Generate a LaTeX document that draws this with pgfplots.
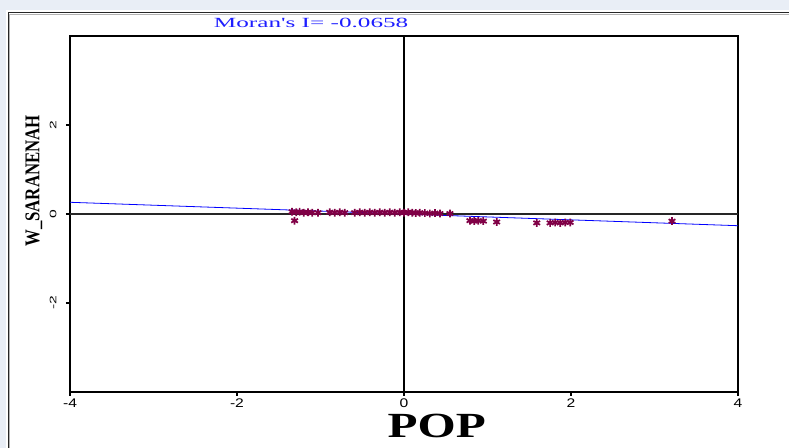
\documentclass[border=0pt]{standalone}
\usepackage{pgfplots}
\pgfplotsset{compat=1.18}
\usepackage{fontspec}
\usepackage{graphicx}
\setmainfont{Liberation Sans}
\newfontfamily\tickfont{Liberation Sans}[FakeStretch=1.25]
\newfontfamily\titlefont{Liberation Serif}[FakeStretch=1.8]
\newfontfamily\labfont{Liberation Serif}
\newfontfamily\popfont{Liberation Serif}[FakeStretch=1.39]
\definecolor{ptcol}{RGB}{128,0,70}
\definecolor{regblue}{RGB}{0,0,255}
\definecolor{titleblue}{RGB}{30,30,255}
\definecolor{winbg}{RGB}{233,238,246}

\begin{document}
\begin{tikzpicture}
% picture is 789x448 px, 1px = 0.75pt, axis box at px (70..738, 36..392)
\path[use as bounding box] (-52.5pt,-42pt) rectangle (539.25pt,294pt);
\fill[winbg] (-52.5pt,-42pt) rectangle (-48pt,294pt);
\fill[winbg] (-52.5pt,286.5pt) rectangle (539.25pt,294pt);
\draw[black!85, line width=1.1pt] (-46.3pt,-42pt) -- (-46.3pt,284.6pt) -- (539.25pt,284.6pt);
\draw[gray!60, line width=0.6pt] (-45.2pt,-42pt) -- (-45.2pt,283.5pt) -- (539.25pt,283.5pt);

\begin{axis}[
    scale only axis,
    width=501pt, height=267pt,
    xmin=-4, xmax=4, ymin=-4, ymax=4,
    axis line style={line width=1.1pt},
    clip=false,
    xtick={-4,-2,0,2,4},
    xticklabels={-4,-2,0,2,4},
    ytick={-2,0,2},
    yticklabels={\scalebox{1}[0.75]{-2},\scalebox{1}[0.75]{0},\scalebox{1}[0.75]{2}},
    tick align=outside,
    major tick length=3pt,
    tick style={black, line width=0.8pt},
    xtick pos=bottom, ytick pos=left,
    xticklabel style={font=\tickfont\fontsize{9.4}{10}\selectfont, inner sep=2pt},
    yticklabel style={font=\tickfont\fontsize{9.4}{10}\selectfont, rotate=90, anchor=south, inner sep=7pt},
]
% zero lines
\addplot[black!85, line width=0.8pt, forget plot] coordinates {(-4,0) (4,0)};
\addplot[black, line width=1.3pt, forget plot] coordinates {(0,-4) (0,4)};
% regression line, slope = Moran's I
\addplot[regblue, line width=0.6pt] coordinates {(-4,0.2632) (4,-0.2632)};
% observations
\addplot[only marks, mark=asterisk, mark size=2.9pt, ptcol, line width=1.3pt] coordinates {
(-1.34,0.05) (-1.31,-0.15) (-1.29,0.04) (-1.25,0.05) (-1.20,0.03) (-1.15,0.04)
(-1.10,0.03) (-1.03,0.03) (-0.89,0.04) (-0.83,0.03) (-0.77,0.04) (-0.71,0.03)
(-0.59,0.03) (-0.53,0.04) (-0.47,0.03) (-0.41,0.04) (-0.35,0.03) (-0.29,0.04)
(-0.23,0.03) (-0.17,0.04) (-0.11,0.03) (-0.05,0.04) (0.00,0.03) (0.05,0.04)
(0.10,0.03) (0.14,0.02) (0.19,0.03) (0.25,0.02) (0.31,0.01) (0.37,0.02)
(0.43,0.01) (0.55,0.01) (0.79,-0.15) (0.84,-0.16) (0.89,-0.15) (0.95,-0.16)
(1.11,-0.18) (1.59,-0.20) (1.75,-0.20) (1.81,-0.19) (1.87,-0.20) (1.93,-0.19)
(1.99,-0.19) (3.21,-0.16)
};
% title and labels
\node[titleblue, font=\titlefont\fontsize{10.5}{11}\selectfont] at (rel axis cs:0.361,1.0365) {Moran's I= -0.0658};
\node[rotate=90, font=\labfont\bfseries\fontsize{12.6}{13}\selectfont] at (rel axis cs:-0.054,0.593) {\scalebox{1}[1.25]{W\_SARANENAH}};
\node[font=\popfont\bfseries\fontsize{26.5}{28}\selectfont] at (rel axis cs:0.549,-0.096) {POP};
\end{axis}
\end{tikzpicture}
\end{document}
